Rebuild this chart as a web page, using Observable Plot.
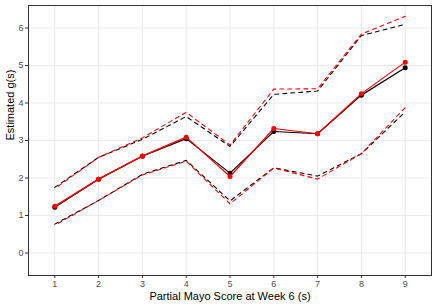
<!DOCTYPE html>
<html>
<head>
<meta charset="utf-8">
<script src="https://cdn.jsdelivr.net/npm/d3@7"></script>
<script src="https://cdn.jsdelivr.net/npm/@observablehq/plot@0.6"></script>
<style>
  html, body { margin: 0; padding: 0; background: #fff; }
</style>
</head>
<body>
<div id="chart"></div>
<script>
const s = [1, 2, 3, 4, 5, 6, 7, 8, 9];
const estBlack   = [1.22, 1.97, 2.58, 3.05, 2.13, 3.24, 3.18, 4.21, 4.94];
const estRed     = [1.25, 1.97, 2.59, 3.09, 2.04, 3.32, 3.18, 4.25, 5.09];
const upperBlack = [1.75, 2.55, 3.03, 3.64, 2.84, 4.23, 4.32, 5.80, 6.10];
const upperRed   = [1.72, 2.55, 3.07, 3.75, 2.88, 4.37, 4.38, 5.84, 6.31];
const lowerBlack = [0.77, 1.40, 2.10, 2.47, 1.39, 2.27, 2.05, 2.65, 3.76];
const lowerRed   = [0.74, 1.40, 2.08, 2.45, 1.31, 2.27, 1.97, 2.65, 3.88];
const xTicks = [1, 2, 3, 4, 5, 6, 7, 8, 9];
const yTicks = [0, 1, 2, 3, 4, 5, 6];
const xTitle = "Partial Mayo Score at Week 6 (s)";
const yTitle = "Estimated g(s)";

const rows = arr => s.map((d, i) => ({s: d, v: arr[i]}));

const chart = Plot.plot({
  width: 438,
  height: 306,
  marginLeft: 28,
  marginRight: 7,
  marginTop: 5,
  marginBottom: 31,
  style: {fontFamily: "'Liberation Sans', Arial, sans-serif", fontSize: "9px", background: "#fff"},
  x: {domain: [0.4, 9.6]},
  y: {domain: [-0.6, 6.6]},
  marks: [
    Plot.ruleX(xTicks, {stroke: "#EBEBEB", strokeWidth: 1, strokeOpacity: 1}),
    Plot.ruleY(yTicks, {stroke: "#EBEBEB", strokeWidth: 1, strokeOpacity: 1}),
    Plot.line(rows(upperBlack), {x: "s", y: "v", stroke: "black", strokeWidth: 1.1, strokeDasharray: "4 4"}),
    Plot.line(rows(lowerBlack), {x: "s", y: "v", stroke: "black", strokeWidth: 1.1, strokeDasharray: "4 4"}),
    Plot.line(rows(upperRed), {x: "s", y: "v", stroke: "#FF0000", strokeWidth: 1.1, strokeDasharray: "4 4", strokeDashoffset: 4}),
    Plot.line(rows(lowerRed), {x: "s", y: "v", stroke: "#FF0000", strokeWidth: 1.1, strokeDasharray: "4 4", strokeDashoffset: 4}),
    Plot.line(rows(estBlack), {x: "s", y: "v", stroke: "black", strokeWidth: 1.2}),
    Plot.dot(rows(estBlack), {x: "s", y: "v", fill: "black", r: 2.5}),
    Plot.line(rows(estRed), {x: "s", y: "v", stroke: "#FF0000", strokeWidth: 1.2}),
    Plot.dot(rows(estRed), {x: "s", y: "v", fill: "#FF0000", r: 2.5}),
    Plot.frame({stroke: "#333333", strokeWidth: 1}),
    Plot.axisX(xTicks, {tickSize: 3, tickPadding: 2, color: "#4D4D4D", stroke: "#333333", label: null, fontSize: 9}),
    Plot.axisY(yTicks, {tickSize: 3, tickPadding: 2, color: "#4D4D4D", stroke: "#333333", label: null, fontSize: 9}),
    Plot.text([xTitle], {frameAnchor: "bottom", dy: 21, lineAnchor: "middle", fontSize: 11, fill: "black", text: d => d}),
    Plot.text([yTitle], {frameAnchor: "left", dx: -18, rotate: -90, lineAnchor: "middle", fontSize: 11, fill: "black", text: d => d})
  ]
});
document.getElementById("chart").appendChild(chart);
</script>
</body>
</html>
